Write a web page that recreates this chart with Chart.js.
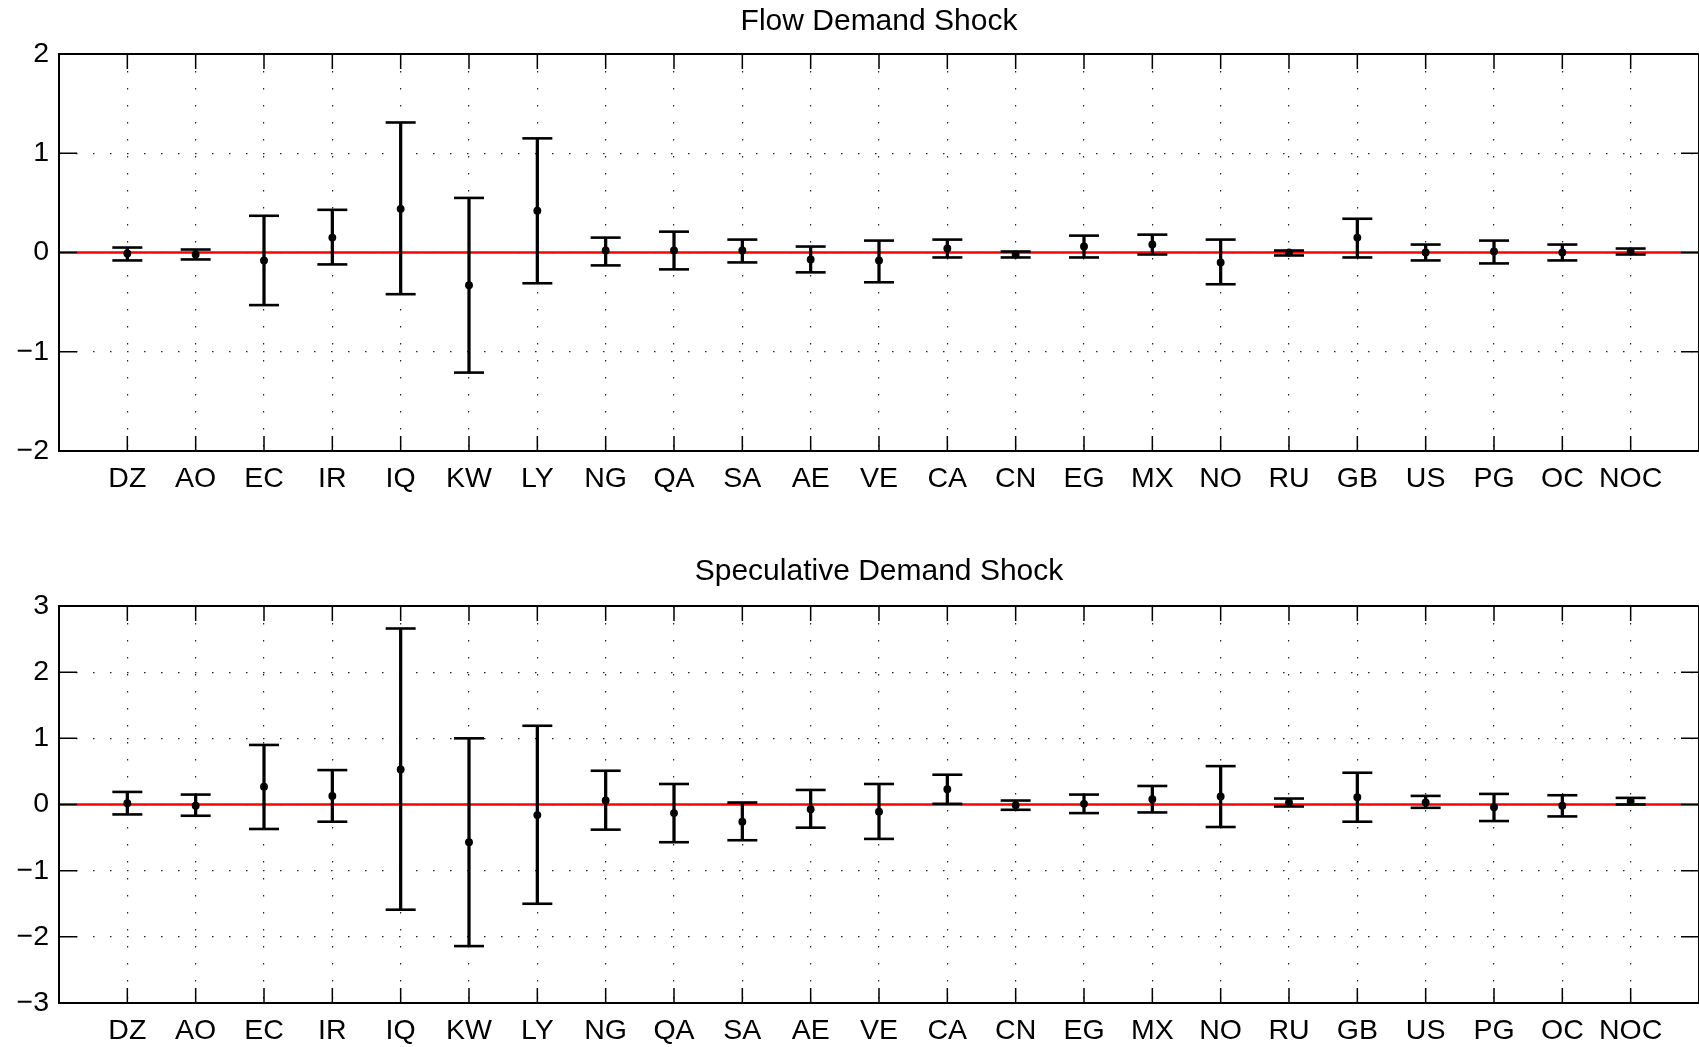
<!DOCTYPE html>
<html>
<head>
<meta charset="utf-8">
<script src="https://cdn.jsdelivr.net/npm/chart.js@4.4.1/dist/chart.umd.min.js"></script>
<style>
  body { margin: 0; background: #fff; overflow: hidden; }
  canvas { position: absolute; left: 0; }
  #flow { top: 0; }
  #spec { top: 525px; }
</style>
</head>
<body>
<canvas id="flow" width="1699" height="525"></canvas>
<canvas id="spec" width="1699" height="522"></canvas>
<script>
const categories = ['DZ', 'AO', 'EC', 'IR', 'IQ', 'KW', 'LY', 'NG', 'QA', 'SA', 'AE', 'VE',
  'CA', 'CN', 'EG', 'MX', 'NO', 'RU', 'GB', 'US', 'PG', 'OC', 'NOC'];

// Flow demand shock: point estimate and band
const flowMid = [-0.01, -0.02, -0.08, 0.15, 0.44, -0.33, 0.42, 0.02, 0.02, 0.02, -0.07, -0.08,
  0.04, -0.02, 0.06, 0.08, -0.10, 0.00, 0.15, 0.00, 0.01, 0.00, 0.01];
const flowLow = [-0.08, -0.07, -0.53, -0.12, -0.42, -1.21, -0.31, -0.13, -0.17, -0.10, -0.20, -0.30,
  -0.05, -0.05, -0.05, -0.02, -0.32, -0.03, -0.05, -0.08, -0.11, -0.08, -0.02];
const flowHigh = [0.05, 0.03, 0.37, 0.43, 1.31, 0.55, 1.15, 0.15, 0.21, 0.13, 0.06, 0.12,
  0.13, 0.01, 0.17, 0.18, 0.13, 0.02, 0.34, 0.08, 0.12, 0.08, 0.04];

// Speculative demand shock
const specMid = [0.02, -0.02, 0.27, 0.13, 0.53, -0.57, -0.16, 0.06, -0.13, -0.26, -0.07, -0.11,
  0.23, -0.01, 0.01, 0.08, 0.12, 0.03, 0.11, 0.03, -0.04, -0.02, 0.05];
const specLow = [-0.15, -0.17, -0.37, -0.26, -1.59, -2.14, -1.50, -0.38, -0.57, -0.54, -0.35, -0.52,
  0.01, -0.08, -0.13, -0.12, -0.34, -0.03, -0.26, -0.05, -0.25, -0.18, 0.00];
const specHigh = [0.19, 0.15, 0.90, 0.52, 2.66, 1.00, 1.19, 0.51, 0.31, 0.03, 0.22, 0.31,
  0.45, 0.06, 0.15, 0.28, 0.58, 0.09, 0.48, 0.13, 0.16, 0.14, 0.10];

const FONT = '"Liberation Sans", Arial, Helvetica, sans-serif';

// box round the axes, with the ticks pointing inwards like matlab
const boxPlugin = {
  id: 'box',
  afterDraw(chart) {
    const {ctx, chartArea: a, scales: {x, y}} = chart;
    ctx.save();
    ctx.strokeStyle = '#000';
    ctx.lineWidth = 1.5;
    ctx.beginPath();
    x.ticks.forEach(t => {
      if (t.value < 1 || t.value > categories.length) return;
      const px = x.getPixelForValue(t.value);
      ctx.moveTo(px, a.top); ctx.lineTo(px, a.top + 15);
      ctx.moveTo(px, a.bottom); ctx.lineTo(px, a.bottom - 15);
    });
    y.ticks.forEach(t => {
      const py = y.getPixelForValue(t.value);
      ctx.moveTo(a.left, py); ctx.lineTo(a.left + 18, py);
      ctx.moveTo(a.right, py); ctx.lineTo(a.right - 18, py);
    });
    ctx.stroke();
    ctx.lineWidth = 2;
    ctx.strokeRect(a.left, a.top, a.right - a.left, a.bottom - a.top);
    ctx.restore();
  }
};

function makeChart(id, title, titlePad, mid, low, high, yMax, xHeight) {
  let pts = arr => arr.map((v, i) => ({x: i + 1, y: v}));
  let grid = {color: '#222', lineWidth: 1.2, drawTicks: false, offset: false};
  let border = {display: false, dash: [1.5, 15.5]};

  return new Chart(document.getElementById(id), {
    type: 'bar',
    data: {
      datasets: [
        {
          type: 'line', data: pts(mid), showLine: false,
          pointRadius: 3.2, pointBorderWidth: 1.5,
          pointBackgroundColor: '#000', pointBorderColor: '#000', order: 0
        },
        {
          type: 'line', data: pts(high), showLine: false, pointStyle: 'line',
          pointRadius: 15, pointBorderWidth: 2.6, pointBorderColor: '#000', order: 1
        },
        {
          type: 'line', data: pts(low), showLine: false, pointStyle: 'line',
          pointRadius: 15, pointBorderWidth: 2.6, pointBorderColor: '#000', order: 1
        },
        {
          data: low.map((v, i) => ({x: i + 1, y: [v, high[i]]})),
          backgroundColor: '#000', borderWidth: 0, barThickness: 2.6, order: 2
        },
        {
          type: 'line', data: [{x: 0, y: 0}, {x: categories.length + 1, y: 0}],
          borderColor: '#ff0000', borderWidth: 2.5, pointRadius: 0, order: 3
        }
      ]
    },
    options: {
      responsive: false,
      animation: false,
      events: [],
      layout: {padding: 0, autoPadding: false},
      plugins: {
        legend: {display: false},
        tooltip: {enabled: false},
        title: {
          display: true, text: title, color: '#000', padding: titlePad, fullSize: false,
          font: {family: FONT, size: 30, weight: 'normal'}
        }
      },
      scales: {
        x: {
          type: 'linear', min: 0, max: categories.length + 1, offset: false,
          afterFit: s => { s.height = xHeight; s.paddingLeft = 0; s.paddingRight = 0; },
          grid: grid, border: border,
          ticks: {
            stepSize: 1, autoSkip: false, maxRotation: 0, maxTicksLimit: 40, padding: 11,
            color: '#000', font: {family: FONT, size: 28.5},
            callback: v => categories[v - 1] || ''
          }
        },
        y: {
          min: -yMax, max: yMax,
          afterFit: s => { s.width = 59; },
          grid: grid, border: border,
          ticks: {
            stepSize: 1, padding: 10, color: '#000', font: {family: FONT, size: 28.5},
            callback: v => v < 0 ? '\u2212' + (-v) : '' + v
          }
        }
      }
    },
    plugins: [boxPlugin]
  });
}

makeChart('flow', 'Flow Demand Shock', {top: 4, bottom: 14}, flowMid, flowLow, flowHigh, 2, 74);
makeChart('spec', 'Speculative Demand Shock', {top: 29, bottom: 16}, specMid, specLow, specHigh, 3, 44);
</script>
</body>
</html>
